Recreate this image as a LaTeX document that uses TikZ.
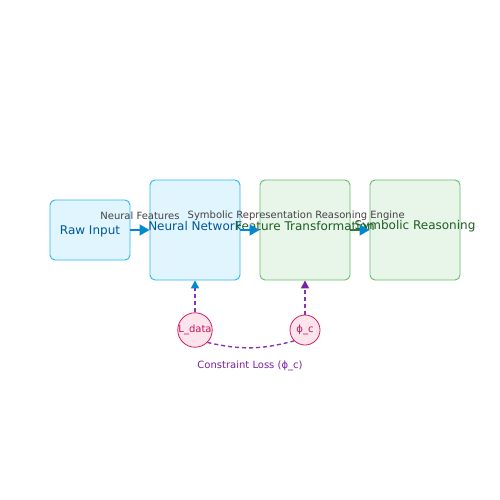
\documentclass[tikz,border=0pt]{standalone}
\usepackage{fontspec}
\setmainfont{DejaVu Sans}
\usetikzlibrary{arrows.meta}
\definecolor{nnblue}{HTML}{0288D1}
\definecolor{nnfill}{HTML}{E1F5FE}
\definecolor{nnline}{HTML}{29B6F6}
\definecolor{nntext}{HTML}{01579B}
\definecolor{symfill}{HTML}{E8F5E9}
\definecolor{symline}{HTML}{66BB6A}
\definecolor{symtext}{HTML}{1B5E20}
\definecolor{symarrow}{HTML}{2E7D32}
\definecolor{lossfill}{HTML}{FCE4EC}
\definecolor{lossline}{HTML}{D81B60}
\definecolor{losstext}{HTML}{C2185B}
\definecolor{cpurple}{HTML}{7B1FA2}
\definecolor{labgray}{HTML}{424242}
\tikzset{
  neurbox/.style={draw=nnline, fill=nnfill, rounded corners=5pt, line width=0.9pt},
  symbox/.style={draw=symline, fill=symfill, rounded corners=5pt, line width=0.9pt},
  boxlabel/.style={font=\fontsize{12}{14}\selectfont, inner sep=0pt},
  lossnode/.style={circle, draw=lossline, fill=lossfill, text=losstext, minimum size=30pt, inner sep=0pt, line width=0.8pt, font=\fontsize{10}{12}\selectfont},
  flow/.style={draw=nnblue, line width=1.6pt, -{Triangle[length=10pt, width=11pt, color=nnblue]}},
  elabel/.style={text=labgray, font=\fontsize{10}{12}\selectfont},
  closs/.style={draw=cpurple!90!white, dash pattern=on 4pt off 3pt, line width=1.4pt}
}
\begin{document}
\begin{tikzpicture}[x=1pt, y=-1pt]
		%%%%% START %%%%%
		\useasboundingbox (0, 0) rectangle (500, 500);
		
		\node[neurbox, minimum width=80pt, minimum height=60pt] (raw) at (90, 230) {};
		\node[neurbox, minimum width=90pt, minimum height=100pt] (nn) at (195, 230) {};
		\node[symbox, minimum width=90pt, minimum height=100pt] (feat) at (305, 230) {};
		\node[symbox, minimum width=90pt, minimum height=100pt] (sym) at (415, 230) {};
		
		\node[boxlabel, text=nntext] (rawlab) at (90, 231) {Raw Input};
		\node[boxlabel, text=nntext] (nnlab) at (195, 226) {Neural Network};
		\node[boxlabel, text=symtext] (featlab) at (305, 226) {Feature Transformation};
		\node[boxlabel, text=symtext] (symlab) at (415, 226) {Symbolic Reasoning};
		
		\node[lossnode] (ldata) at (195, 330) {L\_data};
		\node[lossnode] (phic) at (305, 330) {ϕ\_c};
		
		\draw[flow] (raw.east) -- (nn.west) node[elabel, midway, yshift=14pt] (lnf) {Neural Features};
		\draw[flow] (nn.east) -- (feat.west) node[elabel, midway, yshift=14pt] (lsr) {Symbolic Representation};
		\draw[flow, draw=symarrow] (feat.east) -- (sym.west) node[elabel, midway, yshift=14pt] (lre) {Reasoning Engine};
		
		\draw[closs, -{Triangle[length=8pt, width=8pt, color=nnblue]}] (ldata.north) -- (nn.south);
		\draw[closs, -{Triangle[length=8pt, width=8pt, color=cpurple]}] (phic.north) -- (feat.south);
		\draw[closs] (ldata.-45) to[bend right=14] (phic.-135);
		\node[text=cpurple, font=\fontsize{10}{12}\selectfont] (closslab) at (250, 366) {Constraint Loss (ϕ\_c)};
		%%%%% END %%%%%
	\end{tikzpicture}
\end{document}
